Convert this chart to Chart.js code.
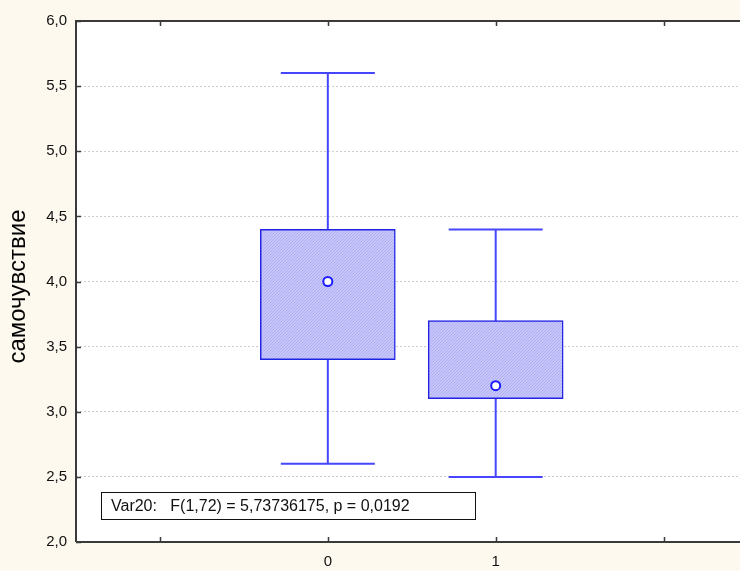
<!DOCTYPE html>
<html>
<head>
<meta charset="utf-8">
<script src="https://cdn.jsdelivr.net/npm/chart.js@4/dist/chart.umd.min.js"></script>
<style>
  html, body { margin: 0; padding: 0; overflow: hidden; background: #fdf9ef; }
  #wrap { width: 760px; height: 571px; }
</style>
</head>
<body>
<div id="wrap"><canvas id="c" width="754" height="571"></canvas></div>
<script>
// Category slots: outer empty slots only carry tick marks
const xLabels = ['', '0', '1', ''];
// Box statistics per group (same order as xLabels)
const boxLow   = [null, 3.4, 3.1, null];
const boxHigh  = [null, 4.4, 3.7, null];
const whiskLow = [null, 2.6, 2.5, null];
const whiskHigh= [null, 5.6, 4.4, null];
const centers  = [null, 4.0, 3.2, null];
// Value axis
const yMin = 2.0, yMax = 6.0, yStep = 0.5;
const yTitle = 'самочувствие';
const statText = 'Var20:   F(1,72) = 5,73736175, p = 0,0192';

const FONT = 'Arial, "Liberation Sans", sans-serif';

function hatchPattern(ctx) {
  const p = document.createElement('canvas');
  p.width = 3; p.height = 3;
  const g = p.getContext('2d');
  g.fillStyle = '#c6c6fa';
  g.fillRect(0, 0, 3, 3);
  g.fillStyle = '#b0b0f2';
  for (let i = 0; i < 3; i++) g.fillRect(i, 2 - i, 1, 1);
  return ctx.createPattern(p, 'repeat');
}

const ctx = document.getElementById('c').getContext('2d');

// Whiskers with caps, drawn beneath the boxes
const whiskers = {
  id: 'whiskers',
  beforeDatasetsDraw(chart) {
    const { ctx, scales: { x, y } } = chart;
    const step = x.getPixelForValue(1) - x.getPixelForValue(0);
    const cap = step * 0.28;
    ctx.save();
    ctx.strokeStyle = '#4646ff';
    ctx.lineWidth = 2;
    for (let i = 0; i < xLabels.length; i++) {
      if (whiskLow[i] == null) continue;
      const cx = x.getPixelForValue(i);
      const yl = y.getPixelForValue(whiskLow[i]);
      const yh = y.getPixelForValue(whiskHigh[i]);
      ctx.beginPath();
      ctx.moveTo(cx, yl); ctx.lineTo(cx, yh);
      ctx.moveTo(cx - cap, yl); ctx.lineTo(cx + cap, yl);
      ctx.moveTo(cx - cap, yh); ctx.lineTo(cx + cap, yh);
      ctx.stroke();
    }
    ctx.restore();
  }
};

// Frame lines, inward tick marks, axis title and the statistics box
const frame = {
  id: 'frame',
  afterDraw(chart) {
    const { ctx, chartArea: a, scales: { x, y } } = chart;
    ctx.save();
    ctx.strokeStyle = '#3a3a3a';
    ctx.lineWidth = 2;
    ctx.beginPath();
    ctx.moveTo(a.left, a.bottom); ctx.lineTo(a.left, a.top); ctx.lineTo(a.right, a.top);
    ctx.moveTo(a.left, a.bottom); ctx.lineTo(a.right, a.bottom);
    ctx.stroke();
    ctx.lineWidth = 1.5;
    ctx.beginPath();
    for (let i = 0; i < xLabels.length; i++) {
      const px = Math.round(x.getPixelForValue(i)) + 0.5;
      ctx.moveTo(px, a.bottom); ctx.lineTo(px, a.bottom - 5);
      ctx.moveTo(px, a.top); ctx.lineTo(px, a.top + 5);
    }
    for (let v = yMin; v <= yMax + 1e-9; v += yStep) {
      const py = Math.round(y.getPixelForValue(v)) + 0.5;
      ctx.moveTo(a.left, py); ctx.lineTo(a.left + 5, py);
    }
    ctx.stroke();

    // rotated value-axis title
    ctx.save();
    ctx.translate(18, (a.top + a.bottom) / 2 + 5);
    ctx.rotate(-Math.PI / 2);
    ctx.fillStyle = '#000';
    ctx.font = '24px ' + FONT;
    ctx.textAlign = 'center';
    ctx.textBaseline = 'middle';
    ctx.fillText(yTitle, 0, 0);
    ctx.restore();

    // statistics label box
    const bx = a.left + 25, by = a.bottom - 50, bw = 374, bh = 27;
    ctx.fillStyle = '#ffffff';
    ctx.fillRect(bx, by, bw, bh);
    ctx.strokeStyle = '#111';
    ctx.lineWidth = 1;
    ctx.strokeRect(bx + 0.5, by + 0.5, bw, bh);
    ctx.fillStyle = '#111';
    ctx.font = '16px ' + FONT;
    ctx.textBaseline = 'middle';
    ctx.fillText(statText, bx + 10, by + bh / 2 + 1);
    ctx.restore();
  }
};

const plotBg = {
  id: 'plotBg',
  beforeDraw(chart) {
    const { ctx, chartArea: a } = chart;
    ctx.save();
    ctx.fillStyle = '#fdf9ef';
    ctx.fillRect(0, 0, chart.width, chart.height);
    ctx.fillStyle = '#ffffff';
    ctx.fillRect(a.left, a.top, a.right - a.left, a.bottom - a.top);
    ctx.restore();
  }
};

new Chart(ctx, {
  type: 'bar',
  data: {
    labels: xLabels,
    datasets: [
      {
        type: 'bar',
        data: boxLow.map((v, i) => v == null ? null : [v, boxHigh[i]]),
        backgroundColor: hatchPattern(ctx),
        borderColor: '#2222e6',
        borderWidth: 1.5,
        borderSkipped: false,
        barThickness: 135,
        order: 2
      },
      {
        type: 'line',
        data: centers,
        showLine: false,
        pointRadius: 4.5,
        pointHoverRadius: 4.5,
        pointBackgroundColor: '#ffffff',
        pointBorderColor: '#1c1cff',
        pointBorderWidth: 2,
        order: 1
      }
    ]
  },
  options: {
    responsive: false,
    animation: false,
    devicePixelRatio: 1,
    layout: { padding: { top: 21, right: 0, bottom: 0, left: 0 } },
    plugins: { legend: { display: false }, tooltip: { enabled: false } },
    scales: {
      x: {
        type: 'category',
        offset: true,
        grid: { display: false, drawTicks: false },
        border: { display: false },
        ticks: { color: '#111', font: { family: FONT, size: 15 }, padding: 11, maxRotation: 0 },
        afterFit(s) { s.height = 29; }
      },
      y: {
        min: yMin, max: yMax,
        grid: {
          color: (c) => (c.tick && (c.tick.value === yMin || c.tick.value === yMax)) ? 'rgba(0,0,0,0)' : '#cccccc',
          drawTicks: false
        },
        border: { display: false, dash: [2, 2] },
        ticks: {
          stepSize: yStep,
          color: '#111',
          padding: 9,
          font: { family: FONT, size: 15 },
          callback: (v) => v.toFixed(1).replace('.', ',')
        },
        afterFit(s) { s.width = 76; }
      }
    }
  },
  plugins: [plotBg, whiskers, frame]
});
</script>
</body>
</html>
